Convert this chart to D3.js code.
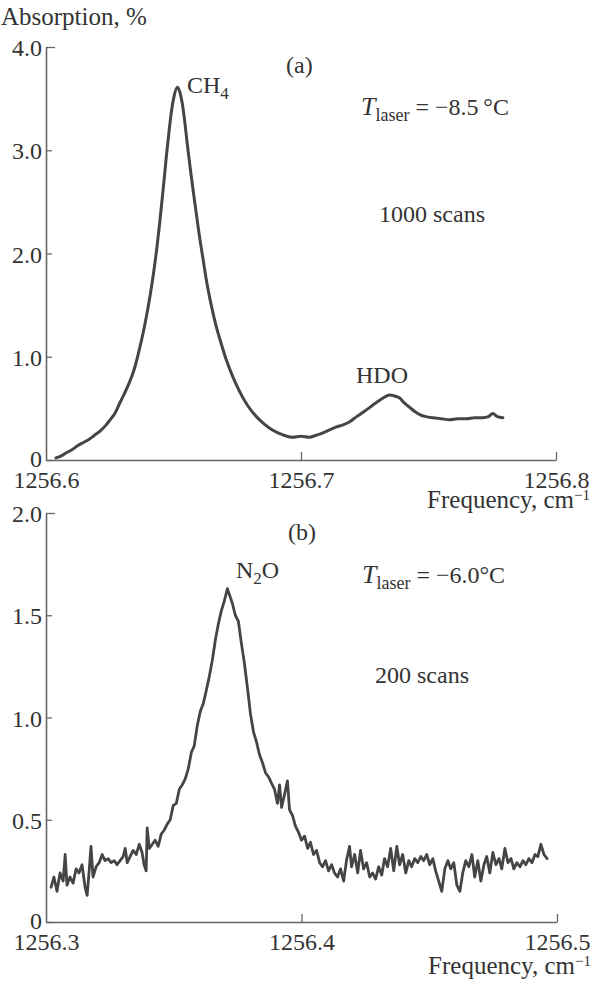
<!DOCTYPE html>
<html>
<head>
<meta charset="utf-8">
<script src="https://cdn.jsdelivr.net/npm/d3@7"></script>
<style>
  html, body { margin: 0; padding: 0; background: #ffffff; }
  svg { display: block; }
  text { font-family: "Liberation Serif", "Times New Roman", serif; fill: #333333; }
</style>
</head>
<body>
<svg id="chart" width="593" height="984"></svg>
<script>
// ---------- DATA ----------
// Panel (a): CH4 / HDO spectrum, [frequency cm^-1, absorption %]
const spectrumA = [
  [1256.6039,0.02],[1256.6060,0.04],[1256.6080,0.07],[1256.6102,0.10],[1256.6125,0.14],
  [1256.6147,0.17],[1256.6169,0.20],[1256.6190,0.24],[1256.6212,0.28],[1256.6236,0.34],
  [1256.6255,0.40],[1256.6270,0.45],[1256.6287,0.54],[1256.6305,0.63],[1256.6320,0.71],
  [1256.6338,0.82],[1256.6352,0.93],[1256.6365,1.06],[1256.6380,1.22],[1256.6393,1.38],
  [1256.6410,1.62],[1256.6424,1.85],[1256.6436,2.08],[1256.6446,2.30],[1256.6456,2.54],
  [1256.6465,2.76],[1256.6472,2.94],[1256.6482,3.17],[1256.6491,3.36],[1256.6502,3.52],
  [1256.6515,3.61],[1256.6524,3.57],[1256.6534,3.46],[1256.6544,3.28],[1256.6554,3.06],
  [1256.6568,2.78],[1256.6582,2.52],[1256.6592,2.34],[1256.6601,2.18],[1256.6615,1.96],
  [1256.6629,1.74],[1256.6648,1.50],[1256.6668,1.29],[1256.6688,1.12],[1256.6707,0.97],
  [1256.6732,0.81],[1256.6758,0.67],[1256.6790,0.53],[1256.6825,0.42],[1256.6855,0.35],
  [1256.6888,0.29],[1256.6927,0.245],[1256.6967,0.22],[1256.7000,0.23],[1256.7033,0.22],
  [1256.7060,0.24],[1256.7084,0.26],[1256.7110,0.29],[1256.7139,0.32],[1256.7165,0.34],
  [1256.7191,0.37],[1256.7218,0.42],[1256.7242,0.46],[1256.7270,0.51],[1256.7297,0.56],
  [1256.7322,0.60],[1256.7348,0.63],[1256.7367,0.62],[1256.7387,0.60],[1256.7406,0.55],
  [1256.7426,0.51],[1256.7446,0.47],[1256.7466,0.44],[1256.7490,0.42],[1256.7517,0.41],
  [1256.7550,0.40],[1256.7583,0.39],[1256.7615,0.40],[1256.7650,0.40],[1256.7680,0.41],
  [1256.7713,0.41],[1256.7735,0.42],[1256.7752,0.45],[1256.7770,0.42],[1256.7792,0.41]
];

// Panel (b): N2O spectrum, [frequency cm^-1, absorption %]
const spectrumB = [
  [1256.3020,0.17],[1256.3031,0.22],[1256.3043,0.15],[1256.3055,0.24],[1256.3067,0.20],
  [1256.3075,0.33],[1256.3082,0.18],[1256.3094,0.22],[1256.3106,0.19],[1256.3118,0.26],
  [1256.3129,0.24],[1256.3141,0.28],[1256.3153,0.17],[1256.3161,0.13],[1256.3169,0.25],
  [1256.3176,0.37],[1256.3184,0.22],[1256.3196,0.27],[1256.3208,0.29],[1256.3220,0.33],
  [1256.3231,0.30],[1256.3243,0.31],[1256.3255,0.29],[1256.3267,0.30],[1256.3278,0.28],
  [1256.3290,0.30],[1256.3302,0.32],[1256.3310,0.36],[1256.3318,0.29],[1256.3329,0.32],
  [1256.3341,0.35],[1256.3353,0.33],[1256.3365,0.38],[1256.3376,0.34],[1256.3384,0.28],
  [1256.3392,0.25],[1256.3396,0.46],[1256.3404,0.36],[1256.3416,0.38],[1256.3427,0.40],
  [1256.3439,0.37],[1256.3451,0.43],[1256.3463,0.45],[1256.3475,0.48],[1256.3486,0.50],
  [1256.3498,0.57],[1256.3510,0.58],[1256.3522,0.65],[1256.3533,0.67],[1256.3545,0.70],
  [1256.3557,0.75],[1256.3569,0.83],[1256.3580,0.86],[1256.3592,0.96],[1256.3604,1.03],
  [1256.3616,1.07],[1256.3627,1.13],[1256.3639,1.20],[1256.3651,1.28],[1256.3663,1.38],
  [1256.3675,1.46],[1256.3686,1.52],[1256.3698,1.57],[1256.3710,1.63],[1256.3718,1.60],
  [1256.3729,1.56],[1256.3741,1.50],[1256.3753,1.47],[1256.3765,1.36],[1256.3776,1.27],
  [1256.3788,1.15],[1256.3800,1.02],[1256.3812,0.93],[1256.3824,0.88],[1256.3835,0.82],
  [1256.3847,0.78],[1256.3859,0.73],[1256.3871,0.71],[1256.3882,0.68],[1256.3894,0.65],
  [1256.3906,0.58],[1256.3914,0.67],[1256.3922,0.56],[1256.3933,0.62],[1256.3945,0.69],
  [1256.3953,0.55],[1256.3965,0.52],[1256.3976,0.47],[1256.3988,0.44],[1256.4000,0.40],
  [1256.4012,0.42],[1256.4024,0.36],[1256.4035,0.39],[1256.4047,0.33],[1256.4059,0.35],
  [1256.4071,0.29],[1256.4082,0.27],[1256.4094,0.30],[1256.4106,0.25],[1256.4118,0.28],
  [1256.4129,0.24],[1256.4141,0.22],[1256.4153,0.26],[1256.4165,0.20],[1256.4176,0.30],
  [1256.4188,0.37],[1256.4196,0.27],[1256.4208,0.33],[1256.4220,0.24],[1256.4231,0.35],
  [1256.4243,0.26],[1256.4255,0.29],[1256.4267,0.22],[1256.4278,0.24],[1256.4290,0.21],
  [1256.4302,0.27],[1256.4314,0.23],[1256.4325,0.31],[1256.4337,0.27],[1256.4349,0.36],
  [1256.4361,0.25],[1256.4373,0.37],[1256.4384,0.28],[1256.4396,0.33],[1256.4408,0.24],
  [1256.4420,0.30],[1256.4431,0.27],[1256.4443,0.31],[1256.4455,0.29],[1256.4467,0.32],
  [1256.4478,0.30],[1256.4490,0.33],[1256.4502,0.28],[1256.4514,0.31],[1256.4525,0.25],
  [1256.4537,0.20],[1256.4549,0.15],[1256.4561,0.26],[1256.4573,0.30],[1256.4584,0.26],
  [1256.4596,0.29],[1256.4608,0.18],[1256.4620,0.15],[1256.4631,0.24],[1256.4643,0.30],
  [1256.4655,0.27],[1256.4667,0.33],[1256.4678,0.22],[1256.4690,0.30],[1256.4702,0.20],
  [1256.4714,0.28],[1256.4725,0.32],[1256.4737,0.24],[1256.4749,0.34],[1256.4761,0.28],
  [1256.4773,0.31],[1256.4784,0.26],[1256.4796,0.36],[1256.4808,0.29],[1256.4820,0.31],
  [1256.4831,0.26],[1256.4843,0.29],[1256.4855,0.27],[1256.4867,0.30],[1256.4878,0.28],
  [1256.4890,0.31],[1256.4902,0.29],[1256.4914,0.33],[1256.4925,0.32],[1256.4937,0.38],
  [1256.4949,0.33],[1256.4961,0.31]
];

const xDomainA = [1256.6, 1256.8];
const xTicksA = [1256.6, 1256.7, 1256.8];
const yDomainA = [0, 4];
const yTicksA = [0, 1, 2, 3, 4];

const xDomainB = [1256.3, 1256.5];
const xTicksB = [1256.3, 1256.4, 1256.5];
const yDomainB = [0, 2];
const yTicksB = [0, 0.5, 1, 1.5, 2];

// ---------- DRAW ----------
const svg = d3.select("#chart");
const ink = "#454545";
const axisInk = "#666666";

function yFmt(d) { return d === 0 ? "0" : d.toFixed(1); }

function panel(cfg) {
  const x = d3.scaleLinear().domain(cfg.xDomain).range([cfg.left, cfg.right]);
  const y = d3.scaleLinear().domain(cfg.yDomain).range([cfg.bottom, cfg.top]);

  const gy = svg.append("g")
    .attr("transform", `translate(${cfg.left},0)`)
    .call(d3.axisLeft(y).tickValues(cfg.yTicks).tickFormat(yFmt)
      .tickSizeInner(-6).tickSizeOuter(0).tickPadding(4));
  gy.select(".domain").attr("stroke", axisInk).attr("stroke-width", 1.6);
  gy.selectAll(".tick line").attr("stroke", axisInk).attr("stroke-width", 1.3);
  gy.selectAll(".tick text").attr("font-size", 24).attr("fill", "#333")
    .attr("font-family", "Liberation Serif, serif").attr("dy", "0.36em");
  gy.selectAll(".tick").filter(d => d === cfg.yDomain[1]).select("line").attr("x2", 9);
  gy.selectAll(".tick").filter(d => d === 0).select("text").attr("dy", "0.25em");

  const gx = svg.append("g")
    .attr("transform", `translate(0,${cfg.bottom})`)
    .call(d3.axisBottom(x).tickValues(cfg.xTicks).tickFormat(d3.format(".1f"))
      .tickSizeInner(-8).tickSizeOuter(0).tickPadding(11));
  gx.select(".domain").attr("stroke", axisInk).attr("stroke-width", 1.6);
  gx.selectAll(".tick line").attr("stroke", axisInk).attr("stroke-width", 1.3);
  gx.selectAll(".tick").filter(d => d === cfg.xDomain[0]).select("line").remove();
  gx.selectAll(".tick text").attr("font-size", 24).attr("fill", "#333")
    .attr("font-family", "Liberation Serif, serif").attr("dy", "0.71em");

  const line = d3.line().x(d => x(d[0])).y(d => y(d[1])).curve(cfg.curve);
  svg.append("path").datum(cfg.data)
    .attr("d", line)
    .attr("fill", "none")
    .attr("stroke", ink)
    .attr("stroke-width", cfg.lw)
    .attr("stroke-linejoin", "round")
    .attr("stroke-linecap", "round");

  const fl = svg.append("text").attr("x", cfg.right + 34).attr("y", cfg.bottom + cfg.flabelDy)
    .attr("text-anchor", "end").attr("font-size", 25);
  fl.append("tspan").text("Frequency, cm");
  fl.append("tspan").attr("dy", -8).attr("font-size", 15).text("\u22121");
  return {x, y};
}

panel({
  xDomain: xDomainA, xTicks: xTicksA, yDomain: yDomainA, yTicks: yTicksA,
  left: 46, right: 556, top: 47, bottom: 460, data: spectrumA, flabelDy: 48,
  curve: d3.curveMonotoneX, lw: 3
});
panel({
  xDomain: xDomainB, xTicks: xTicksB, yDomain: yDomainB, yTicks: yTicksB,
  left: 46, right: 557, top: 513, bottom: 922, data: spectrumB, flabelDy: 52,
  curve: d3.curveLinear, lw: 2.8
});

svg.append("text").attr("x", 1).attr("y", 25).attr("font-size", 25).text("Absorption, %");

function label(xp, yp, parts, size) {
  const t = svg.append("text").attr("x", xp).attr("y", yp).attr("font-size", size || 24);
  parts.forEach(p => {
    const s = t.append("tspan").text(p.t);
    if (p.dy) s.attr("dy", p.dy);
    if (p.fs) s.attr("font-size", p.fs);
    if (p.it) s.attr("font-style", "italic");
  });
  return t;
}
label(286, 73, [{t: "(a)"}], 24);
label(187, 93, [{t: "CH"}, {t: "4", dy: 6, fs: 17}], 24);
label(361, 115, [{t: "T", it: 1, fs: 26}, {t: "laser", dy: 6, fs: 18}, {t: " = \u22128.5\u2009\u00B0C", dy: -6}], 24);
label(379, 222, [{t: "1000 scans"}], 24);
label(356, 383, [{t: "HDO"}], 24);

label(288, 540, [{t: "(b)"}], 24);
label(236, 578, [{t: "N"}, {t: "2", dy: 6, fs: 17}, {t: "O", dy: -6}], 24);
label(362, 583, [{t: "T", it: 1, fs: 26}, {t: "laser", dy: 6, fs: 18}, {t: " = \u22126.0\u00B0C", dy: -6}], 24);
label(375, 683, [{t: "200 scans"}], 24);
</script>
</body>
</html>
